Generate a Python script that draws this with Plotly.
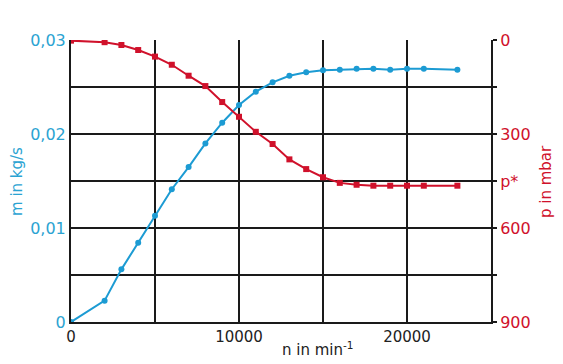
import plotly.graph_objects as go

# Data
n_m = [0, 2000, 3000, 4000, 5000, 6000, 7000, 8000, 9000, 10000, 11000, 12000,
       13000, 14000, 15000, 16000, 17000, 18000, 19000, 20000, 21000, 23000]
m_vals = [0.0, 0.00227, 0.0056, 0.00844, 0.0113, 0.01412, 0.01648, 0.0190, 0.0212,
          0.02309, 0.0245, 0.0255, 0.0262, 0.02656, 0.02678, 0.02684, 0.02695,
          0.02695, 0.02684, 0.02695, 0.02695, 0.02684]

n_p = [0, 2000, 3000, 4000, 5000, 6000, 7000, 8000, 9000, 10000, 11000, 12000,
       13000, 14000, 15000, 16000, 17000, 18000, 19000, 20000, 21000, 23000]
p_vals = [2, 7, 16, 32, 53, 79, 114, 147, 198, 245, 293, 332, 381, 412, 438,
          456, 462, 465, 465, 465, 465, 465]

x_ticks = [0, 5000, 10000, 15000, 20000, 25000]
x_ticktext = ["0", " ", "10000", " ", "20000", " "]
m_ticks = [0, 0.005, 0.01, 0.015, 0.02, 0.025, 0.03]
m_ticktext = ["0", " ", "0,01", " ", "0,02", " ", "0,03"]
p_ticks = [0, 150, 300, 450, 600, 750, 900]
p_ticktext = ["0", " ", "300", "p*", "600", " ", "900"]

BLUE = "#1c9bd3"
BLUE_T = "#2ba3d2"
RED = "#d0112b"
FONT = "DejaVu Sans"

W, H = 563, 364
L, R, T, B = 71, 72, 40, 42
PW, PH = W - L - R, H - T - B


def px2paper(px, py):
    return (px - L) / PW, (H - B - py) / PH


fig = go.Figure()
fig.add_trace(go.Scatter(x=n_m, y=m_vals, mode="lines+markers",
                         line=dict(color=BLUE, width=2),
                         marker=dict(color=BLUE, size=6, symbol="circle"),
                         yaxis="y", showlegend=False))
fig.add_trace(go.Scatter(x=n_p, y=p_vals, mode="lines+markers",
                         line=dict(color=RED, width=2),
                         marker=dict(color=RED, size=6, symbol="square"),
                         yaxis="y2", showlegend=False))

anns = []
for text, px, py, ang, col in [
    ("n in min<sup>-1</sup>", 318, 349, 0, "#222222"),
    ("m in kg/s", 17, 182, -90, BLUE_T),
    ("p in mbar", 546, 182, -90, RED),
]:
    ax, ay = px2paper(px, py)
    anns.append(dict(text=text, x=ax, y=ay, xref="paper", yref="paper",
                     xanchor="center", yanchor="middle", textangle=ang,
                     showarrow=False, font=dict(family=FONT, size=15, color=col)))

fig.update_layout(
    width=W, height=H,
    margin=dict(l=L, r=R, t=T, b=B),
    paper_bgcolor="white", plot_bgcolor="white",
    font=dict(family=FONT),
    xaxis=dict(range=[0, 25000], tickvals=x_ticks, ticktext=x_ticktext,
               showgrid=True, gridcolor="#1a1a1a", gridwidth=2,
               showline=True, linecolor="#1a1a1a", linewidth=2,
               zeroline=False, ticks="",
               tickfont=dict(family=FONT, size=15, color="#222222")),
    yaxis=dict(range=[0, 0.03], tickvals=m_ticks, ticktext=m_ticktext,
               showgrid=True, gridcolor="#1a1a1a", gridwidth=2,
               showline=True, linecolor="#1a1a1a", linewidth=2,
               zeroline=False, ticks="",
               tickfont=dict(family=FONT, size=16, color=BLUE_T)),
    yaxis2=dict(range=[900, 0], tickvals=p_ticks, ticktext=p_ticktext,
                overlaying="y", side="right", showgrid=False,
                showline=True, linecolor="#1a1a1a", linewidth=2,
                zeroline=False, ticks="outside", ticklen=4, tickwidth=2,
                tickcolor="#1a1a1a",
                tickfont=dict(family=FONT, size=16, color=RED)),
    annotations=anns,
)

fig.write_html("out.html",
               config={"displayModeBar": False},
               post_script="document.body.style.margin='0';document.body.style.padding='0';")
